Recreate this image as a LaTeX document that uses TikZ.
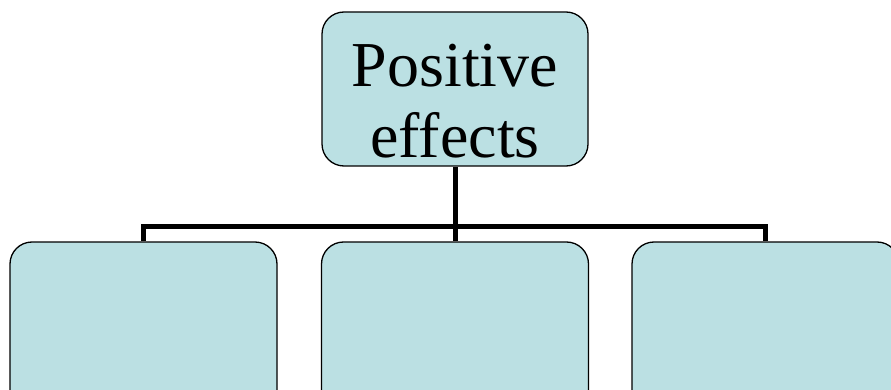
\documentclass[tikz,border=0pt]{standalone}
\usepackage{fontspec}
\setmainfont{Liberation Serif}
\usepackage{xcolor}
\definecolor{boxfill}{HTML}{BBE0E3}

\begin{document}
\begin{tikzpicture}[x=1pt,y=1pt,
    box/.style={draw,line width=1.3pt,fill=boxfill,rounded corners=22pt,inner sep=0pt},
    bus/.style={line width=5pt}]
    \useasboundingbox (0,0) rectangle (891,-390);
    \clip (0,0) rectangle (891,-390);
    \node[box,minimum width=266pt,minimum height=154pt,align=center,
      font=\fontsize{64}{71}\selectfont] (0) at (455,-89) {\rule{0pt}{67pt}Positive\\effects};
    \node[box,minimum width=267pt,minimum height=170pt] (1) at (143.5,-327) {};
    \node[box,minimum width=267pt,minimum height=170pt] (2) at (455,-327) {};
    \node[box,minimum width=267pt,minimum height=170pt] (3) at (765.5,-327) {};
    \coordinate (bus) at (455,-226);
    \draw[bus] (0.south) -- (bus);
    \draw[bus] (1.north) |- (bus) -| (3.north);
    \draw[bus] (bus) -- (2.north);
\end{tikzpicture}
\end{document}
